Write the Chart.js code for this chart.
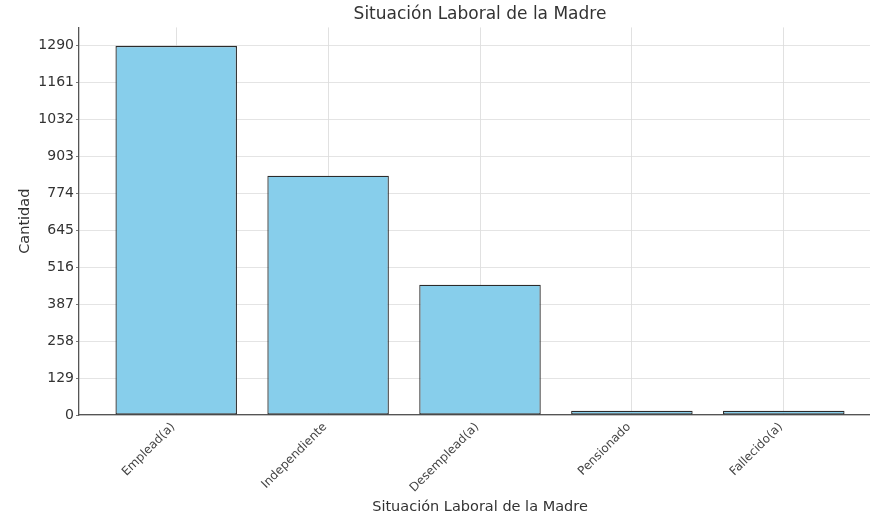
<!DOCTYPE html>
<html>
<head>
<meta charset="utf-8">
<script src="https://cdn.jsdelivr.net/npm/chart.js@4"></script>
<style>
  html, body { margin: 0; padding: 0; background: #fff; overflow: hidden; }
  #wrap { width: 882px; height: 517px; }
</style>
</head>
<body>
<div id="wrap"><canvas id="laboralChart"></canvas></div>
<script>
// Data
const categories = ['Emplead(a)', 'Independiente', 'Desemplead(a)', 'Pensionado', 'Fallecido(a)'];
const counts = [1290, 836, 455, 15, 15];
const yTicks = [0, 129, 258, 387, 516, 645, 774, 903, 1032, 1161, 1290];

const textColor = '#333';
const fontFamily = '"DejaVu Sans", sans-serif';

// bars sit on a linear x axis so the side margins can match the original
const points = counts.map((v, i) => ({ x: i, y: v }));

const ctx = document.getElementById('laboralChart').getContext('2d');
new Chart(ctx, {
    type: 'bar',
    data: {
        datasets: [{
            label: 'Cantidad',
            data: points,
            backgroundColor: '#87CEEB',
            borderColor: '#2b2b2b',
            borderWidth: 1.3,
            borderSkipped: false,
            barPercentage: 0.8,
            categoryPercentage: 1.0
        }]
    },
    options: {
        responsive: true,
        maintainAspectRatio: false,
        animation: false,
        layout: { padding: { left: 0, right: 1, top: 0, bottom: 0 } },
        plugins: {
            legend: { display: false },
            tooltip: { enabled: false },
            title: {
                display: true,
                text: 'Situación Laboral de la Madre',
                fullSize: false,
                color: textColor,
                font: { family: fontFamily, size: 17, weight: 'normal' },
                padding: { top: 4, bottom: 3 }
            }
        },
        scales: {
            x: {
                type: 'linear',
                min: -0.64,
                max: 4.64,
                offset: false,
                z: 1,
                afterBuildTicks: function(scale) {
                    scale.ticks = categories.map((c, i) => ({ value: i }));
                },
                afterFit: function(scale) { scale.height = 102; },
                ticks: {
                    color: '#444',
                    font: { family: fontFamily, size: 12 },
                    minRotation: 45,
                    maxRotation: 45,
                    padding: 5,
                    labelOffset: -3,
                    callback: function(value) { return categories[value]; }
                },
                grid: {
                    offset: false,
                    color: '#d9d9d9',
                    borderDash: [3, 3],
                    lineWidth: 0.8,
                    drawTicks: false
                },
                border: { display: true, color: '#555', width: 1.3 },
                title: {
                    display: true,
                    text: 'Situación Laboral de la Madre',
                    color: textColor,
                    font: { family: fontFamily, size: 14.5 },
                    padding: { top: 0, bottom: 1 }
                }
            },
            y: {
                min: 0,
                max: 1354.5,
                afterBuildTicks: function(scale) {
                    scale.ticks = yTicks.map(v => ({ value: v }));
                },
                afterFit: function(scale) { scale.width = 79; },
                ticks: {
                    color: textColor,
                    font: { family: fontFamily, size: 14 },
                    padding: 2,
                    callback: function(value) { return String(value); }
                },
                grid: {
                    color: '#dddddd',
                    borderDash: [3, 3],
                    lineWidth: 0.8,
                    tickLength: 3,
                    tickColor: '#555',
                    tickBorderDash: []
                },
                border: { display: true, color: '#555', width: 1.3 },
                title: {
                    display: true,
                    text: 'Cantidad',
                    color: textColor,
                    font: { family: fontFamily, size: 14.5 },
                    padding: { top: 17, bottom: 0 }
                }
            }
        }
    }
});
</script>
</body>
</html>
